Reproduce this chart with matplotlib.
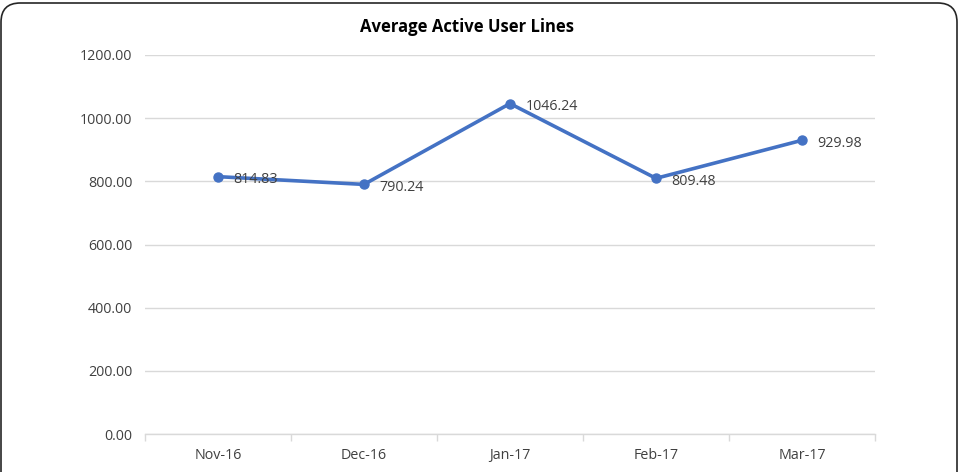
import matplotlib
matplotlib.use("Agg")
import matplotlib.pyplot as plt
from matplotlib.patches import FancyBboxPatch
from matplotlib.ticker import FormatStrFormatter, FixedLocator
import numpy as np

categories = ["Nov-16", "Dec-16", "Jan-17", "Feb-17", "Mar-17"]
values = [814.83, 790.24, 1046.24, 809.48, 929.98]
title = "Average Active User Lines"

plt.rcParams['font.family'] = ['Open Sans', 'DejaVu Sans']

W, H = 961, 472
fig = plt.figure(figsize=(W / 100, H / 100), dpi=100)
fig.patch.set_facecolor("white")

# rounded frame
frame = FancyBboxPatch((1.0 / W, -30 / H), (957 - 1.0) / W, (H - 3 + 30) / H,
                       boxstyle="round,pad=0,rounding_size=0.02",
                       transform=fig.transFigure, fill=False,
                       edgecolor="#262626", linewidth=1.2, mutation_aspect=W / H)
fig.patches.append(frame)

ax = fig.add_axes([145 / W, 1 - 434 / H, (875 - 145) / W, (434 - 55) / H])
x = np.arange(len(categories))
color = "#4472C4"
ax.plot(x, values, color=color, linewidth=2.6, marker="o", markersize=6.5,
        solid_capstyle="round", zorder=3)

for xi, v in zip(x, values):
    ax.annotate(f"{v:.2f}", (xi, v), xytext=(11, -2), textcoords="offset points",
                ha="left", va="center", fontsize=10.3, color="#404040")

ax.set_xlim(-0.5, len(categories) - 0.5)
ax.set_ylim(0, 1200)
ax.set_yticks(np.arange(0, 1201, 200))
ax.yaxis.set_major_formatter(FormatStrFormatter("%.2f"))
ax.grid(axis="y", color="#d9d9d9", linewidth=1)
ax.set_axisbelow(True)

ax.set_xticks(x)
ax.set_xticklabels(categories)
ax.xaxis.set_minor_locator(FixedLocator(np.arange(-0.5, len(categories), 1)))
ax.tick_params(axis="x", which="major", length=0, pad=10, labelsize=10.3, labelcolor="#404040")
ax.tick_params(axis="x", which="minor", length=5, color="#d9d9d9", width=1)
ax.tick_params(axis="y", length=0, pad=9, labelsize=10.3, labelcolor="#404040")

for s in ["top", "right", "left"]:
    ax.spines[s].set_visible(False)
ax.spines["bottom"].set_color("#d9d9d9")
ax.spines["bottom"].set_linewidth(1)

fig.text(467 / W, 1 - 27 / H, title, ha="center", va="center",
         fontsize=12, fontweight="bold", color="#000000")

fig.savefig("out.png", dpi=100)
